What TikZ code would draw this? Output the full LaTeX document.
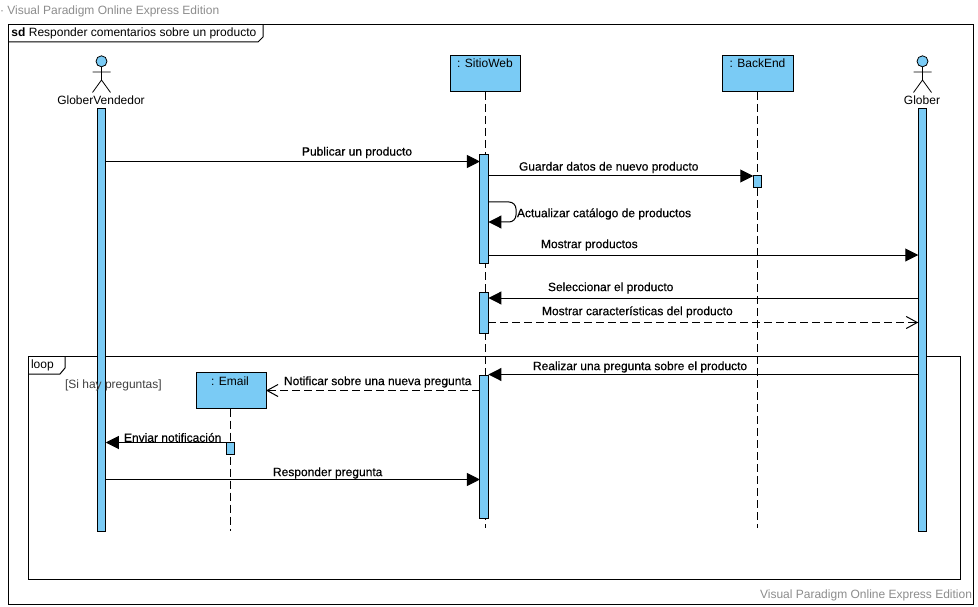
\documentclass[tikz,border=0pt]{standalone}
\usepackage{fontspec}
\setmainfont{Liberation Sans}
\newfontfamily\msgfont[FakeBold=0.4]{Liberation Sans}
\usepackage{xcolor}
\usetikzlibrary{arrows.meta}

\definecolor{lifeblue}{HTML}{7ACBF5}
\definecolor{markgray}{HTML}{8C8C8C}

\tikzset{
	every node/.style = {font = \fontsize{12}{14}\selectfont, inner sep = 0pt, outer sep = 0pt},
	bar/.style = {draw, fill = lifeblue, minimum width = 8.5pt},
	objbox/.style = {draw, fill = lifeblue, minimum width = 70pt, minimum height = 36pt},
	lifeline/.style = {dash pattern = on 8pt off 4pt},
	msg/.style = {-{Triangle[length = 13pt, width = 13pt]}},
	reply/.style = {dash pattern = on 8pt off 4pt, -{Straight Barb[length = 11pt, width = 12pt]}},
	msgtext/.style = {anchor = west, font = \fontsize{12}{14}\msgfont},
	marktext/.style = {text = markgray},
	actorpart/.style = {line width = 0.8pt}
}

\begin{document}
\begin{tikzpicture}[x = 1pt, y = -1pt, line width = 1pt]
			\useasboundingbox (0,0) rectangle (978,607);
			
			% watermarks
			\node [marktext, anchor = west] (markTop) at (0,11) {· Visual Paradigm Online Express Edition};
			\node [marktext, anchor = east] (markBottom) at (972,595.5) {Visual Paradigm Online Express Edition};
			
			% outer frame
			\draw (8,24.5) rectangle (973,604);
			\draw (263,24.5) -- (263,37) -- (258,42) -- (8,42);
			\node [anchor = west] (frameName) at (11.5,33) {\textbf{sd} Responder comentarios sobre un producto};
			
			% loop frame
			\draw (28,356) rectangle (960,579);
			\draw (65,356) -- (65,368) -- (60,374) -- (28,374);
			\node [anchor = west] (loopName) at (31,365.5) {loop};
			
			% objects
			\node [objbox] (sitio) at (485,74) {};
			\node [objbox, minimum width = 71pt] (backend) at (757.5,74) {};
			\node [objbox] (email) at (231,390.5) {};
			\node (sitioName) at (485,63.5) {: SitioWeb};
			\node (backendName) at (757.5,63.5) {: BackEnd};
			\node (emailName) at (230,381) {: Email};
			
			% lifelines
			\coordinate (sitioEnd) at (485,528);
			\coordinate (backendEnd) at (757.5,528);
			\coordinate (emailEnd) at (230.5,531);
			\draw [lifeline] (sitio) -- (sitioEnd);
			\draw [lifeline] (backend) -- (backendEnd);
			\draw [lifeline] (email.south -| emailEnd) -- (emailEnd);
			
			% actors
			\node [draw, circle, fill = lifeblue, minimum size = 11pt, actorpart] (headV) at (101.5,61.3) {};
			\node [draw, circle, fill = lifeblue, minimum size = 11pt, actorpart] (headG) at (922.5,61.3) {};
			\draw [actorpart] (headV) -- (101.5,80) -- (92.5,92.5) (101.5,80) -- (110.5,92.5) (92.5,72) -- (110.5,72);
			\draw [actorpart] (headG) -- (922.5,80) -- (913.5,92.5) (922.5,80) -- (931.5,92.5) (913.5,72) -- (931.5,72);
			\node (nameV) at (101,100) {GloberVendedor};
			\node (nameG) at (922,100) {Glober};
			
			% activations
			\node [bar, minimum height = 423pt] (barV) at (101.5,320) {};
			\node [bar, minimum height = 423pt] (barG) at (922.5,320) {};
			\node [bar, minimum height = 108pt] (barSitioA) at (484.2,209) {};
			\node [bar, minimum height = 41pt] (barSitioB) at (484.2,312.5) {};
			\node [bar, minimum height = 143pt] (barSitioC) at (484.2,446.5) {};
			\node [bar, minimum height = 12pt] (barBack) at (757.5,182) {};
			\node [bar, minimum height = 12pt] (barEmail) at (230.5,448.5) {};
			
			% guard sits on top of the bar
			\node [anchor = west, text = black!75] (guard) at (65,385) {[Si hay preguntas]};
			
			% message heights
			\coordinate (mPublicar) at (0,161.5);
			\coordinate (mGuardar) at (0,176);
			\coordinate (mSelfTop) at (516,202);
			\coordinate (mSelfBottom) at (516,222);
			\coordinate (mMostrar) at (0,255);
			\coordinate (mSelec) at (0,298);
			\coordinate (mCarac) at (0,322.5);
			\coordinate (mPregunta) at (0,374.5);
			\coordinate (mNotif) at (0,390.5);
			\coordinate (mEnviar) at (0,442.5);
			\coordinate (mResp) at (0,479.5);
			
			% messages
			\draw [msg] (barV.east |- mPublicar) -- (barSitioA.west |- mPublicar);
			\draw [msg] (barSitioA.east |- mGuardar) -- (barBack.west |- mGuardar);
			\draw [msg, rounded corners = 7pt] (barSitioA.east |- mSelfTop) -- (mSelfTop) -- (mSelfBottom) -- (barSitioA.east |- mSelfBottom);
			\draw [msg] (barSitioA.east |- mMostrar) -- (barG.west |- mMostrar);
			\draw [msg] (barG.west |- mSelec) -- (barSitioB.east |- mSelec);
			\draw [reply] (barSitioB.east |- mCarac) -- (barG.west |- mCarac);
			\draw [msg] (barG.west |- mPregunta) -- (barSitioC.east |- mPregunta);
			\draw [reply] (barSitioC.west |- mNotif) -- (email.east |- mNotif);
			\draw [msg] (barEmail.west |- mEnviar) -- (barV.east |- mEnviar);
			\draw [msg] (barV.east |- mResp) -- (barSitioC.west |- mResp);
			
			% message labels
			\node [msgtext] (tPublicar) at (302,152.5) {Publicar un producto};
			\node [msgtext] (tGuardar) at (519,167.5) {Guardar datos de nuevo producto};
			\node [msgtext] (tSelf) at (517,214) {Actualizar catálogo de productos};
			\node [msgtext] (tMostrar) at (541,245) {Mostrar productos};
			\node [msgtext] (tSelec) at (548,288) {Seleccionar el producto};
			\node [msgtext] (tCarac) at (542,312) {Mostrar características del producto};
			\node [msgtext] (tPregunta) at (533,367) {Realizar una pregunta sobre el producto};
			\node [msgtext] (tNotif) at (284,382) {Notificar sobre una nueva pregunta};
			\node [msgtext] (tEnviar) at (124,437.5) {Enviar notificación};
			\node [msgtext] (tResp) at (273,473) {Responder pregunta};
			
		\end{tikzpicture}
\end{document}
